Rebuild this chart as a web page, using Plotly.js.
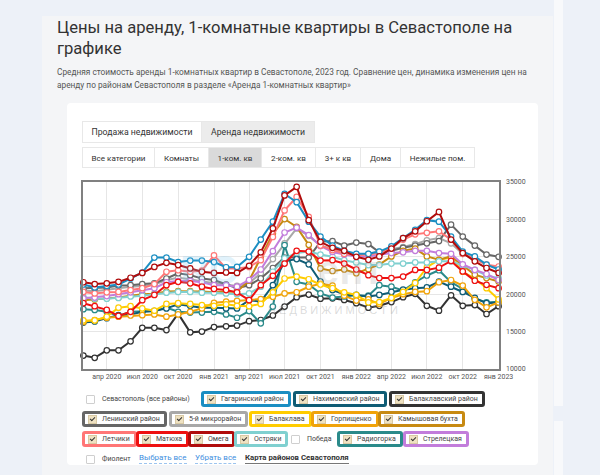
<!DOCTYPE html>
<html>
<head>
<meta charset="utf-8">
<script src="https://cdn.plot.ly/plotly-3.0.1.min.js"></script>
<style>
  html, body { margin:0; padding:0; width:600px; height:475px; overflow:hidden; background:#edf1f8; font-family: Roboto, "Open Sans", sans-serif; }
  .card { position:absolute; left:42px; top:16px; width:511px; height:470px; background:#f4f5f7; }
  .side1 { position:absolute; left:554px; top:0px; width:9px; height:406px; background:#f8f9fb; }
  .side2 { position:absolute; left:554px; top:421px; width:9px; height:60px; background:#f8f9fb; }
  .title { position:absolute; left:57px; top:17px; font-size:16.6px; line-height:21px; color:#333; white-space:nowrap; }
  .sub { position:absolute; left:57px; top:66px; font-size:8.3px; line-height:13px; color:#555; white-space:nowrap; }
  .panel { position:absolute; left:67px; top:103px; width:471px; height:362px; background:#fff; border-radius:4px; }
  .tab, .btn { position:absolute; box-sizing:border-box; border:1px solid #e8e8e8; background:#fff; color:#333; display:flex; align-items:center; justify-content:center; white-space:nowrap; }
  .tab { top:121px; height:22px; font-size:8.7px; }
  .btn { top:147px; height:21px; font-size:8.1px; }
  .act1 { background:#ececec; }
  .act2 { background:#dadada; }
  #chart { position:absolute; left:67px; top:170px; width:471px; height:215px; }
  .lg { position:absolute; box-sizing:border-box; height:16px; border:3px solid #999; border-radius:3px; background:#fff; display:inline-flex; align-items:center; font-size:7px; color:#444; white-space:nowrap; padding:0 4px 0 3px; }
  .cb { width:7px; height:7px; background:#efe2c2; border:1px solid #d8c9a4; margin-right:5px; position:relative; flex:none; }
  .cb::after { content:""; position:absolute; left:2px; top:0px; width:2px; height:4px; border:solid #333; border-width:0 1.3px 1.3px 0; transform:rotate(45deg); }
  .plain { position:absolute; display:flex; align-items:center; font-size:7px; color:#444; white-space:nowrap; height:16px; }
  .ucb { width:7px; height:7px; border:1px solid #cfcfcf; background:#fff; margin-right:7px; border-radius:1px; }
  .lnk { position:absolute; font-size:8px; color:#3d8ee0; border-bottom:1px dashed #9cc4ee; white-space:nowrap; line-height:10px; }
  .map { position:absolute; font-size:7.8px; color:#333; font-weight:bold; border-bottom:1px solid #777; white-space:nowrap; line-height:10px; }
</style>
</head>
<body>
<div class="card"></div>
<div class="side1"></div>
<div class="side2"></div>
<div class="title">Цены на аренду, 1-комнатные квартиры в Севастополе на<br>графике</div>
<div class="sub">Средняя стоимость аренды 1-комнатных квартир в Севастополе, 2023 год. Сравнение цен, динамика изменения цен на<br>аренду по районам Севастополя в разделе «Аренда 1-комнатных квартир»</div>
<div class="panel"></div>

<div class="tab" style="left:82px;width:120px;">Продажа недвижимости</div>
<div class="tab act1" style="left:201px;width:114px;">Аренда недвижимости</div>

<div class="btn" style="left:82px;width:73px;">Все категории</div>
<div class="btn" style="left:154px;width:55px;">Комнаты</div>
<div class="btn act2" style="left:208px;width:54px;">1-ком. кв</div>
<div class="btn" style="left:261px;width:55px;">2-ком. кв</div>
<div class="btn" style="left:315px;width:46px;">3+ к кв</div>
<div class="btn" style="left:360px;width:41px;">Дома</div>
<div class="btn" style="left:400px;width:75px;">Нежилые пом.</div>

<div id="chart"></div>
<div id="legend"></div>

<script>
// ---- data (monthly, Feb 2020 – Jan 2023) ----
var months = ['2020-02-01','2020-03-01','2020-04-01','2020-05-01','2020-06-01','2020-07-01','2020-08-01','2020-09-01','2020-10-01','2020-11-01','2020-12-01','2021-01-01',
              '2021-02-01','2021-03-01','2021-04-01','2021-05-01','2021-06-01','2021-07-01','2021-08-01','2021-09-01','2021-10-01','2021-11-01','2021-12-01','2022-01-01',
              '2022-02-01','2022-03-01','2022-04-01','2022-05-01','2022-06-01','2022-07-01','2022-08-01','2022-09-01','2022-10-01','2022-11-01','2022-12-01','2023-01-01'];

var tickDates  = ['2020-04-01','2020-07-01','2020-10-01','2021-01-01','2021-04-01','2021-07-01','2021-10-01','2022-01-01','2022-04-01','2022-07-01','2022-10-01','2023-01-01'];
var tickLabels = ['апр 2020','июл 2020','окт 2020','янв 2021','апр 2021','июл 2021','окт 2021','янв 2022','апр 2022','июл 2022','окт 2022','янв 2023'];
var yTicks = [10000, 15000, 20000, 25000, 30000, 35000];

var gagarinsky = [21300,20900,21100,21300,22100,22900,24900,24900,24300,24500,24500,24300,23600,23650,25000,27300,29700,33400,32300,29700,27700,26500,25800,25400,25400,25700,26400,27500,28600,29900,29700,27700,25700,25050,23950,23300];
var nakhimovsky = [16200,16350,16800,17200,17300,17650,17750,18100,18650,18450,18200,18200,18100,18100,19200,19000,21200,24400,24700,24000,21700,20550,20000,19900,19700,19900,20300,20600,20800,20900,21700,21000,20300,19500,18800,18900];
var balaklavsky = [11800,11500,12500,12500,13700,15500,15500,15200,17400,14900,15000,15600,15700,15800,16400,16550,17150,18350,19600,19950,19400,19450,19230,18800,18200,18450,18950,19600,20050,18450,17800,19850,18450,18550,17350,18400];
var leninsky    = [20800,20800,20900,21150,21200,21350,21450,22100,22800,22550,22100,21900,21300,20800,21200,22100,23500,24900,24900,24900,27000,27100,26500,26900,26700,25600,25800,26200,26500,26800,27100,29300,27700,26500,25300,25000];
var mkr5        = [20500,20400,20600,20800,21000,21100,21300,21900,22200,22000,21700,21500,21300,21100,21500,22800,24700,26800,28800,27800,26500,26000,25600,25300,25400,25700,26000,26300,26700,27200,27500,26800,25400,24800,23900,23500];
var balaklava   = [16500,16500,17000,18200,18400,18100,17800,18700,18800,18700,18550,18450,18650,18450,18400,18700,20250,22100,22350,22000,21300,20800,20250,19900,18900,18950,19500,20300,21500,23600,24600,24900,23000,22100,20800,19300];
var gorpishchenko = [16300,16550,16850,17000,17150,17200,17300,17000,17300,17650,18100,18850,19000,19100,19200,19350,19650,20100,20260,21000,21400,21150,19800,19150,19300,18700,19500,20000,20300,20400,21600,21900,21150,19250,18250,18900];
var kamyshovaya = [19200,19300,19450,19550,19800,20000,20050,20350,20400,20400,20350,20250,20350,20350,21800,25000,28100,30050,29000,26600,23450,23100,23300,22800,23350,23950,25050,25800,26100,25050,24600,25050,23850,22600,22150,21700];
var letchiki    = [20300,20100,20250,20300,20550,20800,21350,23000,23200,23000,23150,25200,23450,23450,23650,24550,27650,31200,33000,30350,26500,25900,25400,25200,25300,25500,26200,27300,28000,28200,28400,27300,25400,24700,23950,23700];
var matyukha    = [18800,18400,17900,17100,17650,19200,19900,21200,21650,21450,21000,20700,20550,20250,19200,21200,22450,24100,25800,25700,24500,24550,24100,23300,22550,22150,22150,22350,23250,23250,23550,24450,23050,21800,21250,20800];
var omega       = [21600,21350,21450,21650,22200,22850,23650,24200,23900,23450,23000,22850,22900,22850,23800,25600,28800,33200,34350,29900,27000,26200,25800,25000,24600,25050,26100,27500,28400,29750,31000,27300,25500,24400,23500,22850];
var ostryaki    = [19600,19400,19400,19500,19700,19800,20000,20200,20300,20300,20200,20200,20100,20000,20100,21000,23000,24800,25500,25700,25300,25000,24550,24250,23900,23900,24100,24100,24250,24250,24400,24400,23850,23250,22500,22150];
var radiogorka  = [18000,17900,17650,17100,17650,17650,17750,18200,17650,17550,17550,17650,17300,16850,17750,16100,18350,26550,21650,21300,20100,19550,19700,19850,19800,21200,21000,20500,21600,22500,23200,21600,20700,19400,18900,19000];
var streletskaya = [19450,19550,19750,20000,20250,20550,20800,21600,21750,21750,21600,21200,21200,21000,21900,23300,25750,28250,28900,27900,26450,25650,25300,25050,25050,25300,25500,25600,25800,25800,25500,25400,24000,23250,22700,21900];

var seriesNames  = ['Гагаринский район','Нахимовский район','Балаклавский район','Ленинский район','5-й микрорайон','Балаклава','Горпищенко','Камышовая бухта','Летчики','Матюха','Омега','Остряки','Радиогорка','Стрелецкая'];
var seriesValues = [gagarinsky, nakhimovsky, balaklavsky, leninsky, mkr5, balaklava, gorpishchenko, kamyshovaya, letchiki, matyukha, omega, ostryaki, radiogorka, streletskaya];
var seriesColors = ['#1b8ec2','#0f5c75','#333333','#666666','#a8a8a8','#ffcc00','#f0a30a','#c78a12','#ff7676','#ee1111','#b00c0c','#80d0d0','#2a8a8a','#c27ddb'];

// draw order (lower first)
var drawOrder = [2,4,3,12,1,6,5,7,11,13,9,8,0,10];

var traces = drawOrder.map(function(k){
  return {
    type:'scatter', mode:'lines+markers', name:seriesNames[k],
    x:months, y:seriesValues[k],
    line:{color:seriesColors[k], width:2},
    marker:{symbol:'circle', size:5.5, color:'#fff', line:{color:seriesColors[k], width:1.2}},
    cliponaxis:false, hoverinfo:'skip'
  };
});

var layout = {
  width:471, height:215,
  margin:{l:16, r:39, t:12, b:16},
  paper_bgcolor:'#fff', plot_bgcolor:'#fff',
  showlegend:false,
  font:{family:'Roboto, sans-serif', size:7, color:'#555'},
  xaxis:{type:'date', range:['2020-01-31','2023-01-02'], tickmode:'array', tickvals:tickDates, ticktext:tickLabels,
         showgrid:true, gridcolor:'#e6e6e6', gridwidth:1, showline:true, mirror:true, linecolor:'#808080', linewidth:1.6,
         ticks:'', tickfont:{size:7, color:'#555'}, zeroline:false},
  yaxis:{side:'right', range:[10000,35000], tickmode:'array', tickvals:yTicks, ticktext:yTicks.map(String),
         showgrid:true, gridcolor:'#e6e6e6', gridwidth:1, showline:true, mirror:true, linecolor:'#808080', linewidth:1.6,
         ticks:'', ticklabelstandoff:4, tickfont:{size:7, color:'#555'}, zeroline:false},
  annotations:[
    {xref:'x', yref:'y', x:'2020-12-20', y:23300, text:'<b>RC</b>', showarrow:false, font:{size:40, color:'rgba(120,200,240,0.22)', family:'Arial'}},
    {xref:'x', yref:'y', x:'2021-12-15', y:23300, text:'<b>ент</b>', showarrow:false, font:{size:40, color:'rgba(160,160,160,0.22)', family:'Arial'}},
    {xref:'x', yref:'y', x:'2021-11-01', y:17900, text:'Н Е Д В И Ж И М О С Т И', showarrow:false, font:{size:11, color:'rgba(150,150,150,0.35)', family:'Arial'}}
  ]
};

Plotly.newPlot('chart', traces, layout, {staticPlot:true, displayModeBar:false});

// ---- checkbox legend (HTML) ----
var legendItems = [
  {t:'Севастополь (все районы)', c:null, x:86, y:391},
  {t:'Гагаринский район', c:seriesColors[0], x:201, y:391},
  {t:'Нахимовский район', c:seriesColors[1], x:293, y:391},
  {t:'Балаклавский район', c:seriesColors[2], x:389, y:391},
  {t:'Ленинский район', c:seriesColors[3], x:82, y:411},
  {t:'5-й микрорайон', c:seriesColors[4], x:169, y:411},
  {t:'Балаклава', c:seriesColors[5], x:249, y:411},
  {t:'Горпищенко', c:seriesColors[6], x:311, y:411},
  {t:'Камышовая бухта', c:seriesColors[7], x:378, y:411},
  {t:'Летчики', c:seriesColors[8], x:82, y:431},
  {t:'Матюха', c:seriesColors[9], x:136, y:431},
  {t:'Омега', c:seriesColors[10], x:188, y:431},
  {t:'Остряки', c:seriesColors[11], x:234, y:431},
  {t:'Победа', c:null, x:291, y:431},
  {t:'Радиогорка', c:seriesColors[12], x:337, y:431},
  {t:'Стрелецкая', c:seriesColors[13], x:403, y:431},
  {t:'Фиолент', c:null, x:86, y:451}
];
var lg = document.getElementById('legend');
legendItems.forEach(function(it){
  var d = document.createElement('div');
  if (it.c) {
    d.className = 'lg';
    d.style.left = it.x + 'px'; d.style.top = it.y + 'px';
    d.style.borderColor = it.c;
    d.innerHTML = '<span class="cb"></span>' + it.t;
  } else {
    d.className = 'plain';
    d.style.left = it.x + 'px'; d.style.top = it.y + 'px';
    d.innerHTML = '<span class="ucb"></span>' + it.t;
  }
  lg.appendChild(d);
});
var links = [
  {t:'Выбрать все', cls:'lnk', x:139, y:453},
  {t:'Убрать все', cls:'lnk', x:195, y:453},
  {t:'Карта районов Севастополя', cls:'map', x:245, y:453}
];
links.forEach(function(l){
  var d = document.createElement('div');
  d.className = l.cls; d.style.left = l.x + 'px'; d.style.top = l.y + 'px';
  d.textContent = l.t; lg.appendChild(d);
});
</script>
</body>
</html>
